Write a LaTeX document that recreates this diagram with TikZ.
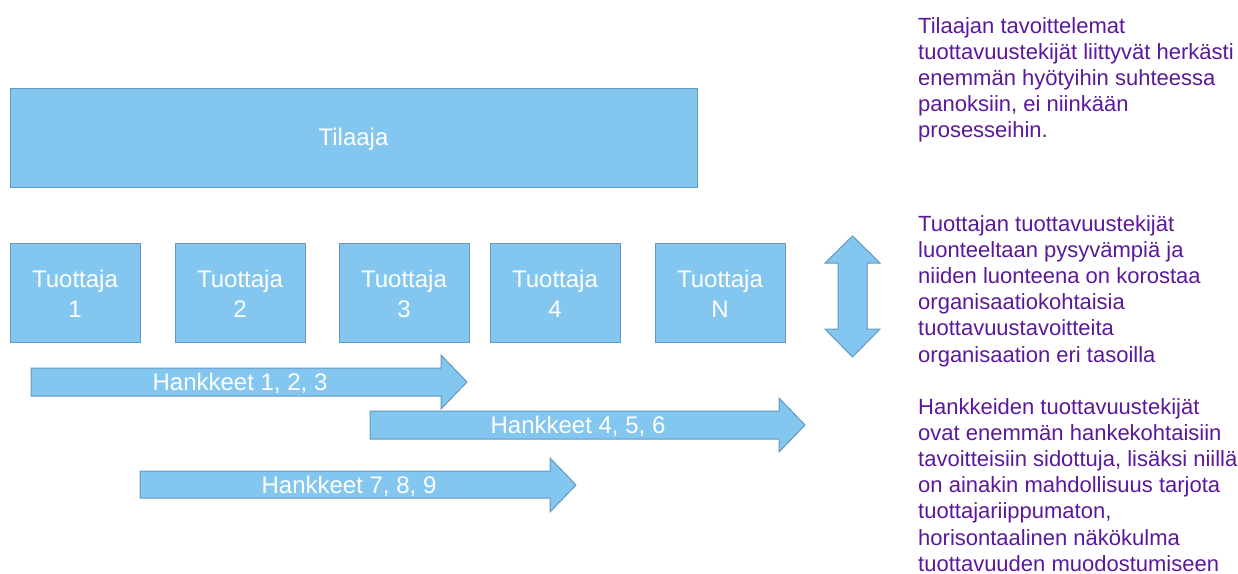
\documentclass[tikz,border=0pt]{standalone}
\usepackage{fontspec}
\setmainfont{Liberation Sans}
\definecolor{boxfill}{RGB}{131,198,239}
\definecolor{boxline}{RGB}{100,152,190}
\definecolor{purp}{RGB}{92,24,155}
\begin{document}
\begin{tikzpicture}[x=1pt,y=-1pt,
  shapebox/.style={draw=boxline,fill=boxfill,line width=1pt},
  boxtext/.style={text=white,font=\fontsize{24}{30}\selectfont,align=center,inner sep=0pt},
  note/.style={text=purp,font=\fontsize{22}{26.2}\selectfont,align=left,anchor=north west,inner sep=0pt}]
\useasboundingbox (0,0) rectangle (1238,573);
% Tilaaja
\draw[shapebox] (10,88) rectangle (697,187);
\node[boxtext] (tilaaja) at (353.5,139.5) {Tilaaja};
% Tuottajat
\foreach \x/\lab/\nm in {10/1/t1,175/2/t2,339/3/t3,490/4/t4,655/N/t5}{
  \draw[shapebox] (\x,243) rectangle (\x+130,342);
  \node[boxtext] (\nm) at (\x+65,294) {Tuottaja\\\lab};
}
% Hankkeet arrows
\draw[shapebox] (31,368) -- (441,368) -- (441,355) -- (467,382) -- (441,409) -- (441,396) -- (31,396) -- cycle;
\node[boxtext] (h1) at (240,383) {Hankkeet 1, 2, 3};
\draw[shapebox] (370,411) -- (779,411) -- (779,398) -- (805,425) -- (779,452) -- (779,439) -- (370,439) -- cycle;
\node[boxtext] (h2) at (578,426) {Hankkeet 4, 5, 6};
\draw[shapebox] (140,471) -- (550,471) -- (550,458) -- (576,485) -- (550,512) -- (550,498) -- (140,498) -- cycle;
\node[boxtext] (h3) at (349,486) {Hankkeet 7, 8, 9};
% double arrow
\draw[shapebox] (852.5,236) -- (880,263) -- (867,263) -- (867,329) -- (880,329) -- (852.5,357) -- (825,329) -- (838,329) -- (838,263) -- (825,263) -- cycle;
% notes
\node[note] (n1) at (918,17) {Tilaajan tavoittelemat\\tuottavuustekijät liittyvät herkästi\\enemmän hyötyihin suhteessa\\panoksiin, ei niinkään\\prosesseihin.};
\node[note] (n2) at (918,215) {Tuottajan tuottavuustekijät\\luonteeltaan pysyvämpiä ja\\niiden luonteena on korostaa\\organisaatiokohtaisia\\tuottavuustavoitteita\\organisaation eri tasoilla};
\node[note] (n3) at (918,398) {Hankkeiden tuottavuustekijät\\ovat enemmän hankekohtaisiin\\tavoitteisiin sidottuja, lisäksi niillä\\on ainakin mahdollisuus tarjota\\tuottajariippumaton,\\horisontaalinen näkökulma\\tuottavuuden muodostumiseen};
\end{tikzpicture}
\end{document}
